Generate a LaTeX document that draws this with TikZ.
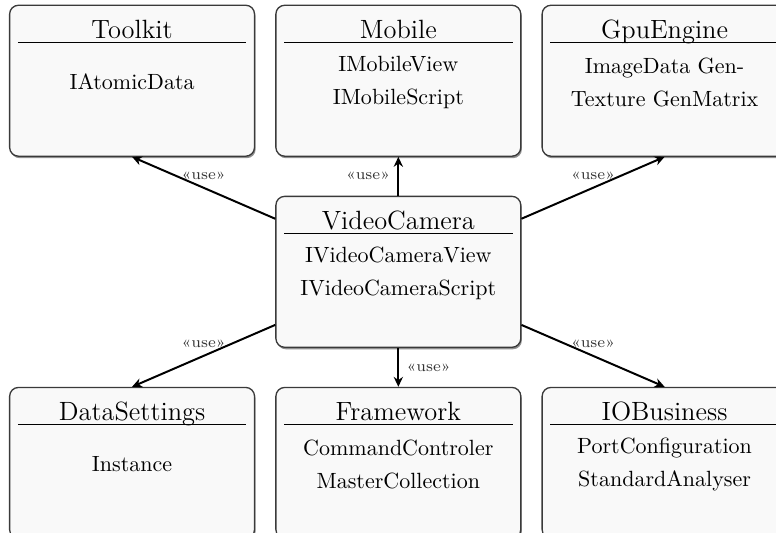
\documentclass[tikz,border=0pt]{standalone}
\usetikzlibrary{arrows.meta,positioning,shadows}
\definecolor{boxline}{HTML}{3A3A3A}
\definecolor{boxfill}{HTML}{F9F9F9}
\tikzset{
  pkgbox/.style={draw=boxline, fill=boxfill, rounded corners=4pt, line width=0.6pt, minimum width=3.91cm, minimum height=2.41cm,
    drop shadow={shadow xshift=0.5pt, shadow yshift=-0.9pt, fill=black!55, opacity=0.8}},
  pkgtitle/.style={anchor=base, font=\large, inner sep=0pt},
  pkgbody/.style={align=center, font=\fontsize{10}{15}\selectfont, inner sep=0pt},
  pkgrule/.style={black, line width=0.5pt},
  uses/.style={-{Stealth[length=4.5pt, width=4.2pt]}, black, line width=0.9pt},
  stereo/.style={font=\scriptsize, text=black!80},
}
\newcommand{\umlpackage}[4]{%
  \node[pkgbox, #2] (#1) {};
  \node[pkgtitle] (#1-title) at ([yshift=-15.3pt]#1.north) {#3};
  \draw[pkgrule] ([xshift=4pt, yshift=-17.3pt]#1.north west) -- ([xshift=-4pt, yshift=-17.3pt]#1.north east);
  \node[pkgbody] (#1-body) at ([yshift=-35.2pt]#1.north) {#4};
}

\begin{document}
\begin{tikzpicture}[node distance=0.62cm and 0.32cm]
    \clip (0,0) rectangle (12.39,-8.51);

    \umlpackage{camera}{at={(6.36,-4.34)}}{VideoCamera}{IVideoCameraView\\ IVideoCameraScript}
    \umlpackage{mobile}{above=of camera}{Mobile}{IMobileView\\ IMobileScript}
    \umlpackage{toolkit}{left=of mobile}{Toolkit}{IAtomicData}
    \umlpackage{gpu}{right=of mobile}{GpuEngine}{ImageData Gen-\\ Texture GenMatrix}
    \umlpackage{framework}{below=of camera}{Framework}{CommandControler\\ MasterCollection}
    \umlpackage{settings}{left=of framework}{DataSettings}{Instance}
    \umlpackage{business}{right=of framework}{IOBusiness}{PortConfiguration\\ StandardAnalyser}

    \draw[uses] (camera) -- node[stereo, midway, above] {«use»} (toolkit.south);
    \draw[uses] (camera) -- node[stereo, midway, left] {«use»} (mobile.south);
    \draw[uses] (camera) -- node[stereo, midway, above] {«use»} (gpu.south);
    \draw[uses] (camera) -- node[stereo, midway, above] {«use»} (settings.north);
    \draw[uses] (camera) -- node[stereo, midway, right] {«use»} (framework.north);
    \draw[uses] (camera) -- node[stereo, midway, above] {«use»} (business.north);
  \end{tikzpicture}
\end{document}
